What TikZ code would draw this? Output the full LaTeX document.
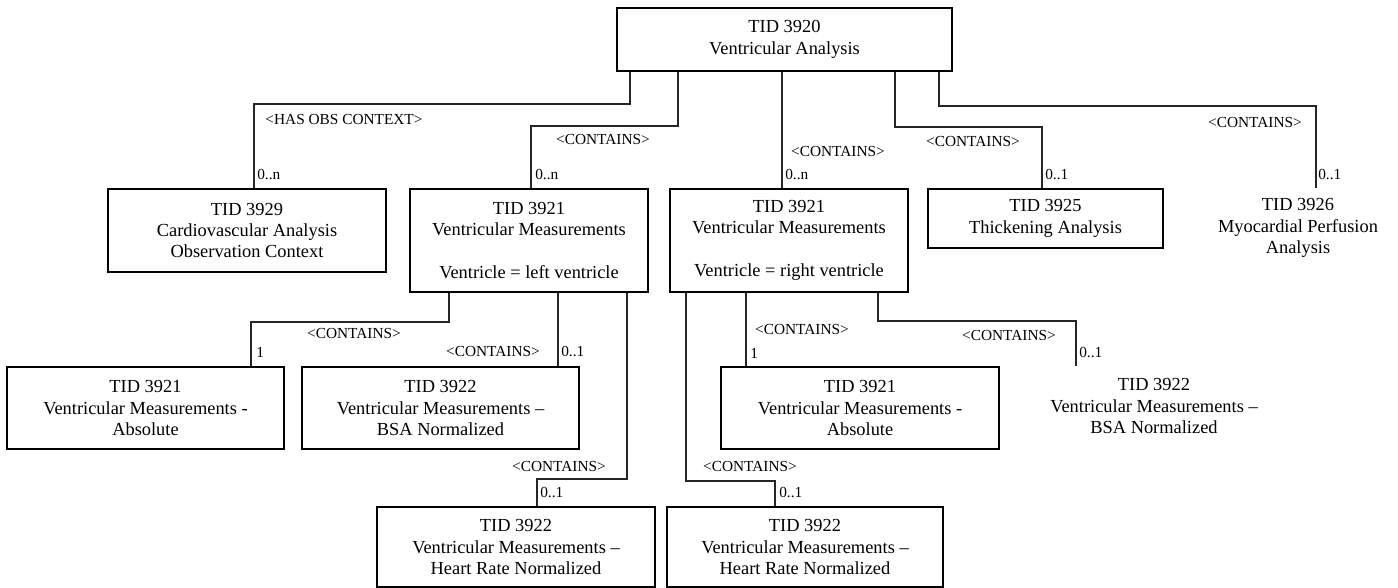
\documentclass[tikz,border=0pt]{standalone}
\usepackage{fontspec}
\setmainfont{Liberation Serif}
\begin{document}
\begin{tikzpicture}[x=0.75pt,y=-0.75pt,
  box/.style={draw=black,line width=1.6pt,rectangle,inner sep=0pt,align=center,
    font=\fontsize{13.8pt}{16.1pt}\selectfont},
  plain/.style={rectangle,inner sep=0pt,align=center,font=\fontsize{13.8pt}{16.1pt}\selectfont},
  lbl/.style={inner sep=0pt,font=\fontsize{11.5pt}{13pt}\selectfont},
  mult/.style={inner sep=0pt,anchor=west,font=\fontsize{11.5pt}{13pt}\selectfont},
  conn/.style={draw=black!85,line width=0.8pt}]
\useasboundingbox (0,0) rectangle (1398,588);

% boxes
\node[box,minimum width=251.25pt,minimum height=47.25pt] (top) at (784.5,39.5)
  {TID 3920\\[0.4pt]Ventricular Analysis};
\node[box,minimum width=208.5pt,minimum height=62.25pt] (b3929) at (247,230.5)
  {TID 3929\\Cardiovascular Analysis\\Observation Context};
\node[box,minimum width=178.5pt,minimum height=77.25pt] (b3921L) at (529,240.5)
  {TID 3921\\Ventricular Measurements\\[16.1pt]Ventricle = left ventricle};
\node[box,minimum width=178.5pt,minimum height=77.25pt] (b3921R) at (789,240.5)
  {TID 3921\\Ventricular Measurements\\[16.1pt]Ventricle = right ventricle};
\node[box,minimum width=176.25pt,minimum height=44.25pt] (b3925) at (1045.5,218.5)
  {TID 3925\\Thickening Analysis};
\node[plain] (t3926) at (1298,228)
  {TID 3926\\Myocardial Perfusion\\Analysis};
\node[box,minimum width=207.75pt,minimum height=61.5pt] (bAbsL) at (145.5,408)
  {TID 3921\\Ventricular Measurements -\\Absolute};
\node[box,minimum width=207.75pt,minimum height=61.5pt] (bBSAL) at (440.5,408)
  {TID 3922\\Ventricular Measurements –\\BSA Normalized};
\node[box,minimum width=208.5pt,minimum height=60pt] (bHRL) at (516,547)
  {TID 3922\\Ventricular Measurements –\\Heart Rate Normalized};
\node[box,minimum width=208.5pt,minimum height=61.5pt] (bAbsR) at (860,408)
  {TID 3921\\Ventricular Measurements -\\Absolute};
\node[plain] (tBSAR) at (1154,406)
  {TID 3922\\Ventricular Measurements –\\BSA Normalized};
\node[box,minimum width=207pt,minimum height=60pt] (bHRR) at (805,547)
  {TID 3922\\Ventricular Measurements –\\Heart Rate Normalized};

% bend coordinates
\coordinate (c1a) at (630,104);  \coordinate (c1b) at (254,104);
\coordinate (c2a) at (678,126);  \coordinate (c2b) at (531,126);
\coordinate (c3)  at (782,150);
\coordinate (c4a) at (895,127);  \coordinate (c4b) at (1042,127);
\coordinate (c5a) at (939,106);  \coordinate (c5b) at (1316,106);
\coordinate (e5)  at (1316,188);
\coordinate (c6a) at (449,322);  \coordinate (c6b) at (251,322);
\coordinate (c7)  at (558,330);
\coordinate (c8a) at (627,479);  \coordinate (c8b) at (537,479);
\coordinate (c9a) at (686,481);  \coordinate (c9b) at (775,481);
\coordinate (c10) at (746,330);
\coordinate (c11a) at (878,321); \coordinate (c11b) at (1076,321);
\coordinate (e11) at (1076,366);

% connectors
\draw[conn] (top.south -| c1a) -- (c1a) -- (c1b) -- (b3929.north -| c1b);
\draw[conn] (top.south -| c2a) -- (c2a) -- (c2b) -- (b3921L.north -| c2b);
\draw[conn] (top.south -| c3) -- (b3921R.north -| c3);
\draw[conn] (top.south -| c4a) -- (c4a) -- (c4b) -- (b3925.north -| c4b);
\draw[conn] (top.south -| c5a) -- (c5a) -- (c5b) -- (e5);
\draw[conn] (b3921L.south -| c6a) -- (c6a) -- (c6b) -- (bAbsL.north -| c6b);
\draw[conn] (b3921L.south -| c7) -- (bBSAL.north -| c7);
\draw[conn] (b3921L.south -| c8a) -- (c8a) -- (c8b) -- (bHRL.north -| c8b);
\draw[conn] (b3921R.south -| c9a) -- (c9a) -- (c9b) -- (bHRR.north -| c9b);
\draw[conn] (b3921R.south -| c10) -- (bAbsR.north -| c10);
\draw[conn] (b3921R.south -| c11a) -- (c11a) -- (c11b) -- (e11);

% relationship labels
\node[lbl] (l1)  at (344,119) {<HAS OBS CONTEXT>};
\node[lbl] (l2)  at (603,139) {<CONTAINS>};
\node[lbl] (l3)  at (838,151) {<CONTAINS>};
\node[lbl] (l4)  at (973,141) {<CONTAINS>};
\node[lbl] (l5)  at (1255,122) {<CONTAINS>};
\node[lbl] (l6)  at (354,333) {<CONTAINS>};
\node[lbl] (l7)  at (493,351) {<CONTAINS>};
\node[lbl] (l8)  at (559,466) {<CONTAINS>};
\node[lbl] (l9)  at (750,466) {<CONTAINS>};
\node[lbl] (l10) at (802,329) {<CONTAINS>};
\node[lbl] (l11) at (1009,335) {<CONTAINS>};

% multiplicities
\node[mult] (m1)  at (257,175) {0..n};
\node[mult] (m2)  at (535,175) {0..n};
\node[mult] (m3)  at (785,175) {0..n};
\node[mult] (m4)  at (1045,175) {0..1};
\node[mult] (m5)  at (1318,175) {0..1};
\node[mult] (m6)  at (256,352) {1};
\node[mult] (m7)  at (561,352) {0..1};
\node[mult] (m8)  at (540,493) {0..1};
\node[mult] (m9)  at (779,493) {0..1};
\node[mult] (m10) at (750,353) {1};
\node[mult] (m11) at (1079,353) {0..1};
\end{tikzpicture}
\end{document}
